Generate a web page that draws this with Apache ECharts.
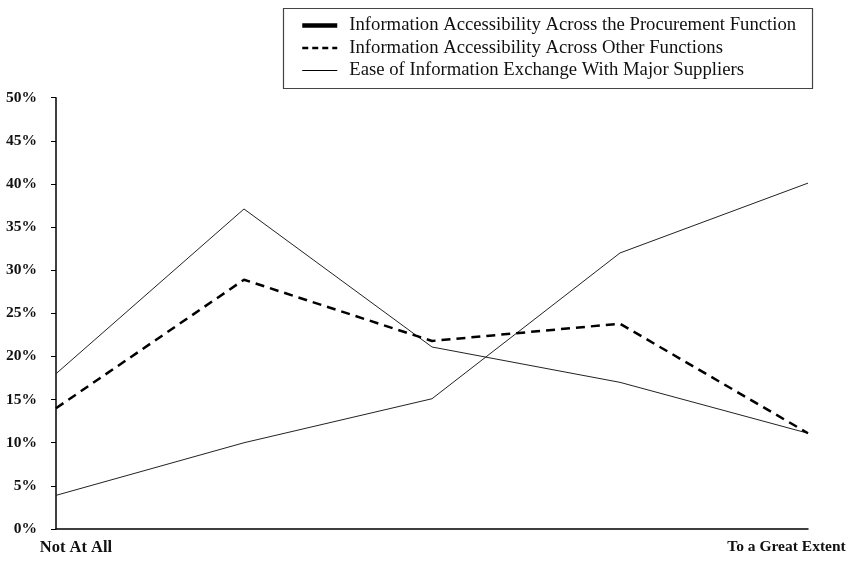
<!DOCTYPE html>
<html><head><meta charset="utf-8">
<script src="https://cdn.jsdelivr.net/npm/echarts@6/dist/echarts.min.js"></script>
<style>html,body{margin:0;padding:0;background:#fff}#c{width:846px;height:562px}</style>
</head><body><div id="c"></div>
<script>
const categories = ["Not At All", "", "", "", "To a Great Extent"];
const yTicks = [0, 5, 10, 15, 20, 25, 30, 35, 40, 45, 50];
const seriesNames = [
  "Information Accessibility Across the Procurement Function",
  "Information Accessibility Across Other Functions",
  "Ease of Information Exchange With Major Suppliers"
];
const procurement = [18, 37.1, 21.1, 17, 11.1];
const otherFunctions = [14, 28.9, 21.8, 23.8, 11.1];
const suppliers = [3.9, 10, 15.1, 32, 40.1];

const font = "'Liberation Serif', 'Times New Roman', serif";
const chart = echarts.init(document.getElementById('c'), null, {renderer: 'canvas'});
chart.setOption({
  animation: false,
  backgroundColor: '#fff',
  color: ['#000', '#000', '#000'],
  grid: {left: 56, right: 38, top: 97.7, bottom: 33, containLabel: false, outerBoundsMode: 'none'},
  graphic: [{
    type: 'rect', left: 281, top: 6, shape: {width: 529, height: 80},
    style: {fill: 'none', stroke: '#444', lineWidth: 1.2}
  }],
  legend: {
    orient: 'vertical', left: 300, top: 16, padding: 0,
    itemWidth: 35, itemHeight: 18, itemGap: 3.5,
    itemStyle: {opacity: 0},
    textStyle: {fontFamily: font, fontSize: 18.7, color: '#111', padding: [0, 0, 0, 7]},
    data: [
      {name: seriesNames[0], lineStyle: {width: 4.5, color: '#000'}, itemStyle: {opacity: 0}},
      {name: seriesNames[1], lineStyle: {width: 2.5, color: '#000', type: [6, 4]}, itemStyle: {opacity: 0}},
      {name: seriesNames[2], lineStyle: {width: 1.2, color: '#000'}, itemStyle: {opacity: 0}}
    ]
  },
  xAxis: {
    type: 'category', data: categories, boundaryGap: false,
    axisLine: {lineStyle: {color: '#000', width: 1.5}},
    axisTick: {show: false},
    axisLabel: {
      interval: 0, margin: 10,
      formatter: function (v, i) {
        if (i === 0) return '{a|' + v + '}';
        if (i === categories.length - 1) return '{b|' + v + '}';
        return '';
      },
      rich: {
        a: {fontFamily: font, fontSize: 16.5, fontWeight: 'bold', color: '#111', padding: [0, 0, 0, 40]},
        b: {fontFamily: font, fontSize: 15.5, fontWeight: 'bold', color: '#111', padding: [0, 43, 0, 0]}
      }
    },
    splitLine: {show: false}
  },
  yAxis: {
    type: 'value', min: yTicks[0], max: yTicks[yTicks.length - 1], interval: 5,
    axisLine: {show: true, lineStyle: {color: '#000', width: 1.5}},
    axisTick: {show: true, length: 5, lineStyle: {color: '#000', width: 1}},
    axisLabel: {formatter: '{value}%', margin: 19, fontFamily: font, fontSize: 15.5, fontWeight: 'bold', color: '#111'},
    splitLine: {show: false}
  },
  series: [
    {name: seriesNames[0], type: 'line', data: procurement, symbol: 'none',
     itemStyle: {color: '#000'}, lineStyle: {color: '#222', width: 1, type: 'solid'}, z: 2},
    {name: seriesNames[1], type: 'line', data: otherFunctions, symbol: 'none',
     itemStyle: {color: '#000'}, lineStyle: {color: '#000', width: 2.5, type: [9, 6]}, z: 3},
    {name: seriesNames[2], type: 'line', data: suppliers, symbol: 'none',
     itemStyle: {color: '#000'}, lineStyle: {color: '#222', width: 1, type: 'solid'}, z: 2}
  ]
});
</script></body></html>
